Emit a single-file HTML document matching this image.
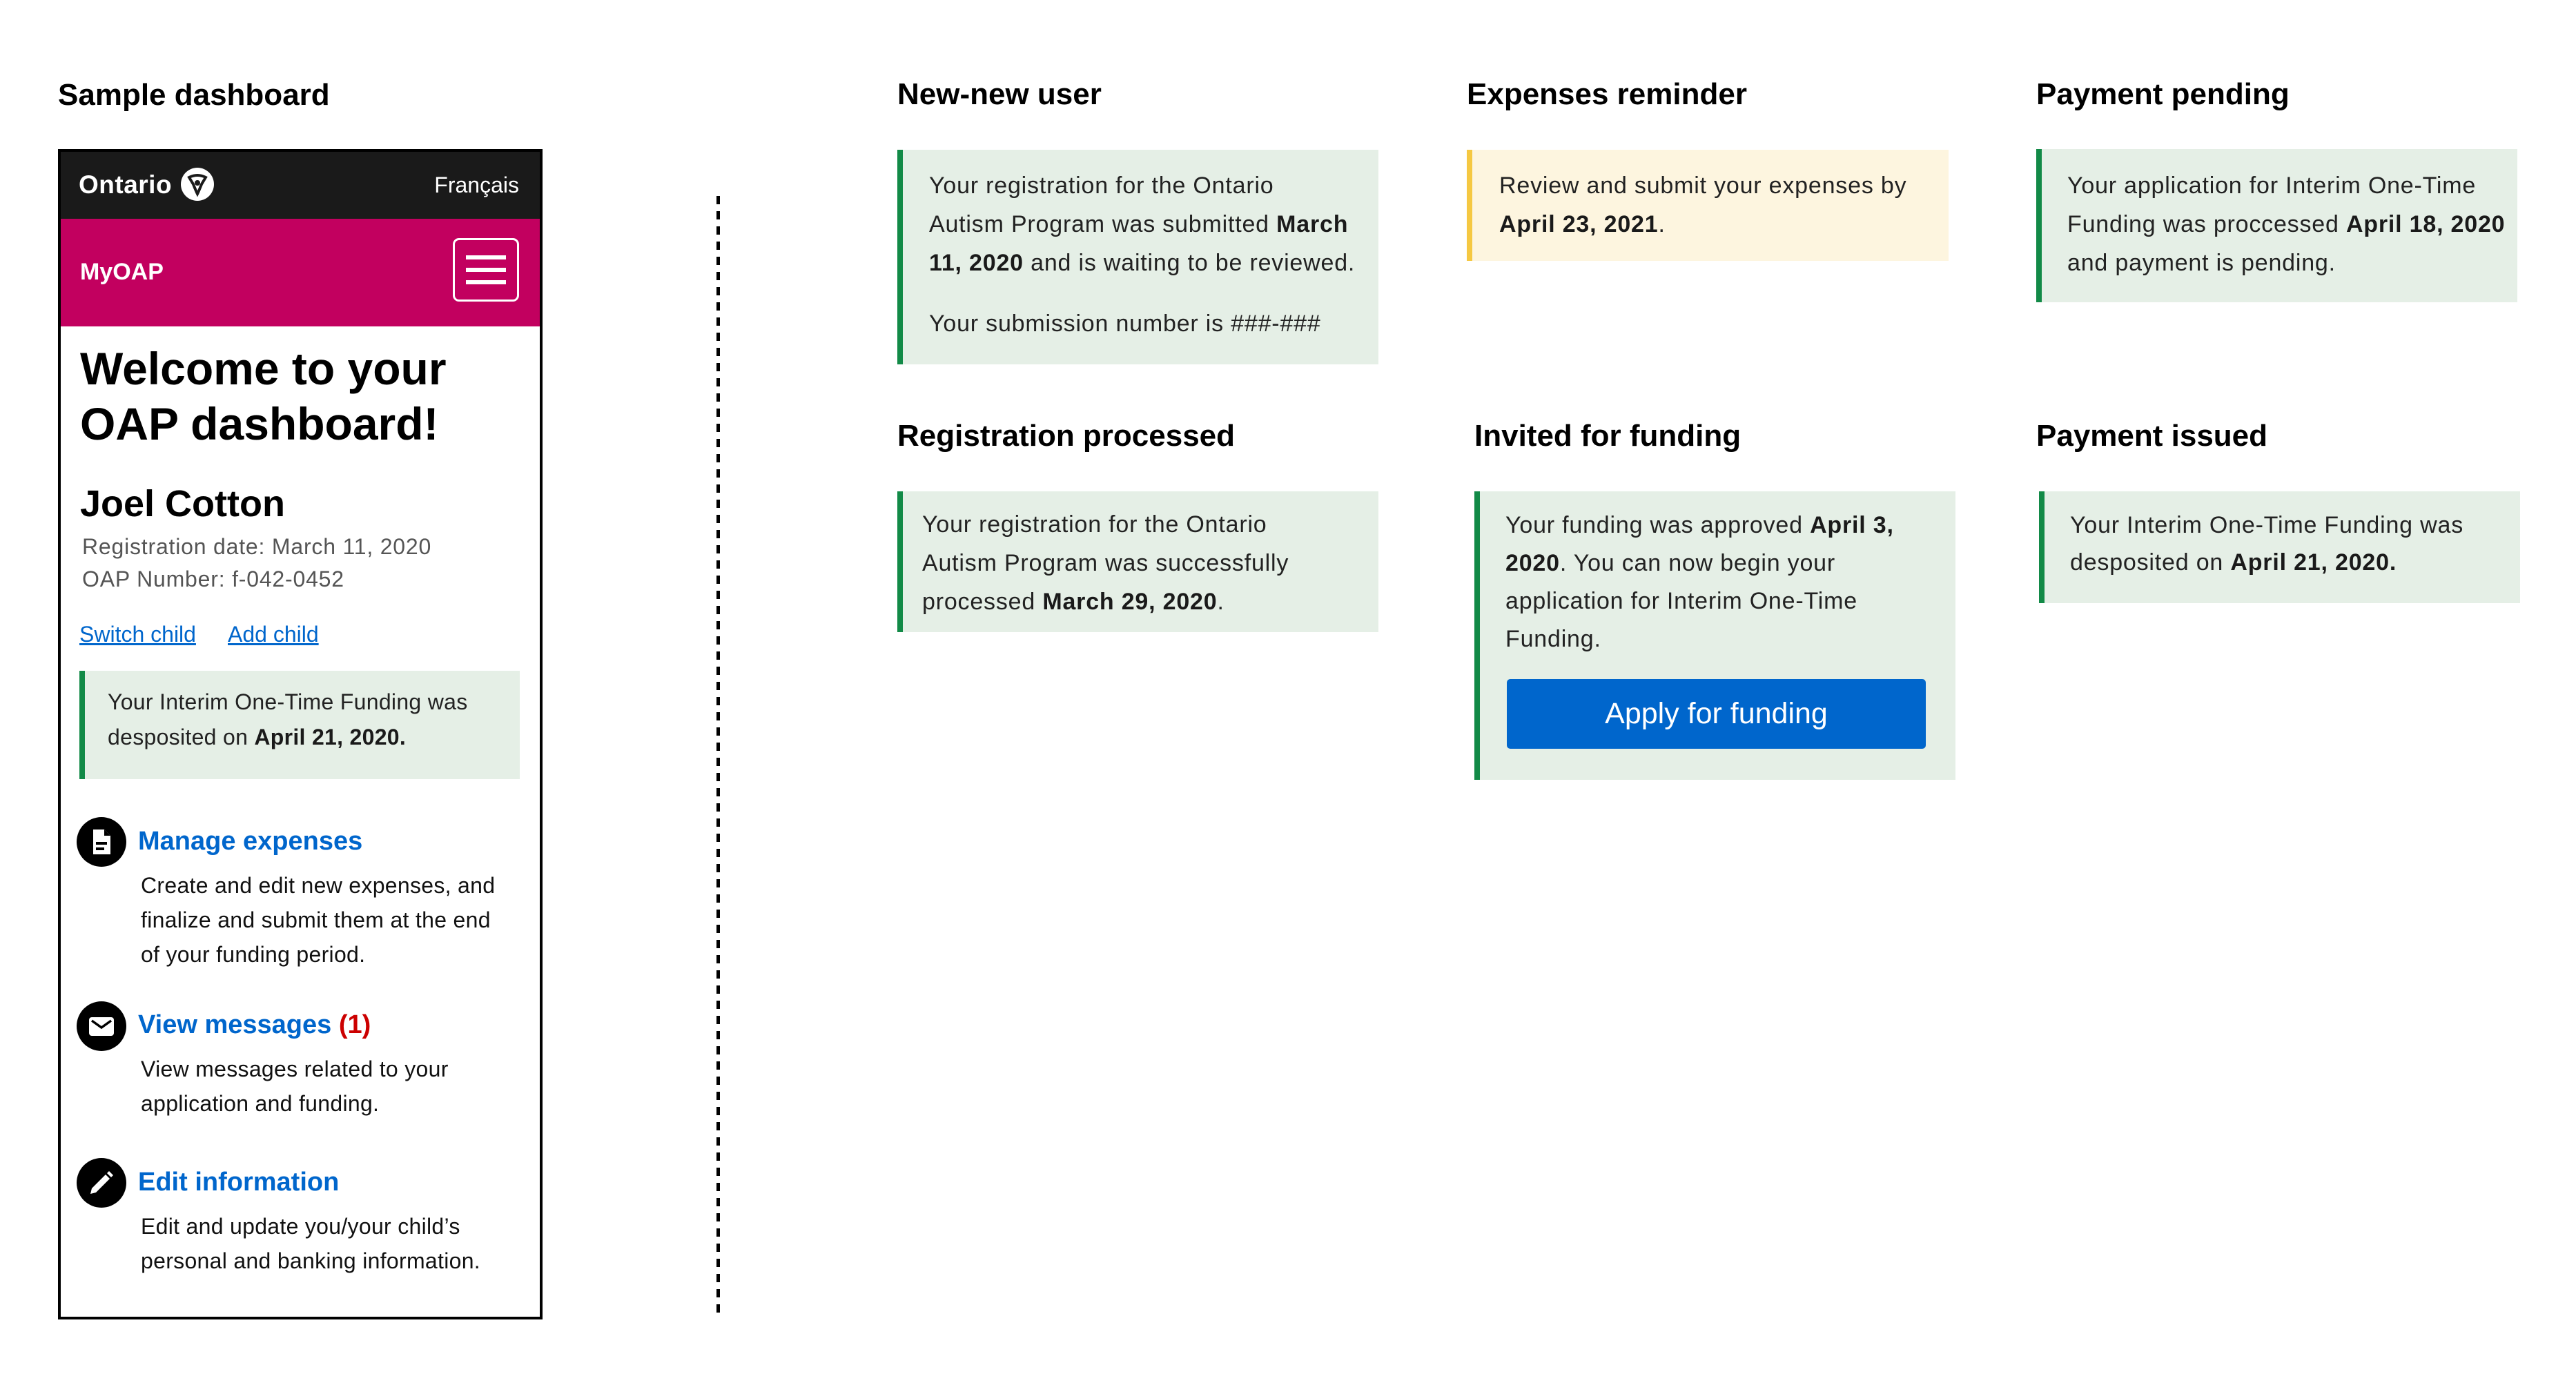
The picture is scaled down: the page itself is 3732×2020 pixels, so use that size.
<!DOCTYPE html>
<html><head><meta charset="utf-8"><style>
*{margin:0;padding:0;box-sizing:border-box}
body{width:3732px;height:2020px;background:#fff;position:relative;overflow:hidden;font-family:"Liberation Sans",Arial,sans-serif;color:#1a1a1a}
.a{position:absolute;white-space:nowrap}
.t{font-weight:bold;font-size:44px;line-height:44px;color:#000}
.box{position:absolute;background:#E5EFE6;border-left:8px solid #128A47}
.bt{position:absolute;font-size:34px;letter-spacing:0.8px;line-height:56px;color:#222;white-space:nowrap}
b{font-weight:bold;color:#1a1a1a}
.ic{position:absolute;width:72px;height:72px;border-radius:50%;background:#000}
.lk{color:#0066CC;font-weight:bold;font-size:38px;line-height:46px}
.ds{font-size:32px;letter-spacing:0.3px;line-height:50px;color:#111}
</style></head><body>

<div class="a t" style="left:84px;top:116px">Sample dashboard</div>
<div class="a t" style="left:1300px;top:115px">New-new user</div>
<div class="a t" style="left:2125px;top:115px">Expenses reminder</div>
<div class="a t" style="left:2950px;top:115px">Payment pending</div>
<div class="a t" style="left:1300px;top:610px">Registration processed</div>
<div class="a t" style="left:2136px;top:610px">Invited for funding</div>
<div class="a t" style="left:2950px;top:610px">Payment issued</div>

<!-- phone -->
<div style="position:absolute;left:84px;top:216px;width:702px;height:1696px;border:4px solid #000;background:#fff;overflow:hidden">
  <div style="position:absolute;left:0;top:0;width:100%;height:97px;background:#1A1A1A"></div>
  <div class="a" style="left:26px;top:26px;font-size:37px;line-height:44px;color:#fff;font-weight:bold;letter-spacing:0.5px">Ontario</div>
  <div style="position:absolute;left:174px;top:23px;width:48px;height:48px;border-radius:50%;background:#fff">
    <svg width="48" height="48" viewBox="0 0 48 48"><path d="M12 14 Q24 8 36 14 L30 24 Q26 34 24 38 Q22 34 18 24 Z" fill="none" stroke="#1a1a1a" stroke-width="4"/><circle cx="24" cy="22" r="4" fill="#1a1a1a"/></svg>
  </div>
  <div class="a" style="right:30px;top:29px;font-size:32px;line-height:38px;color:#fff">Français</div>
  <div style="position:absolute;left:0;top:97px;width:100%;height:156px;background:#C2005F"></div>
  <div class="a" style="left:28px;top:154px;font-size:34px;line-height:40px;color:#fff;font-weight:bold">MyOAP</div>
  <div style="position:absolute;left:568px;top:125px;width:96px;height:92px;border:3px solid #fff;border-radius:9px">
    <div style="position:absolute;left:16px;top:22px;width:58px;height:6px;background:#fff"></div>
    <div style="position:absolute;left:16px;top:40px;width:58px;height:6px;background:#fff"></div>
    <div style="position:absolute;left:16px;top:58px;width:58px;height:6px;background:#fff"></div>
  </div>
  <div class="a" style="left:28px;top:274px;font-size:66px;line-height:80px;font-weight:bold;color:#000">Welcome to your<br>OAP dashboard!</div>
  <div class="a" style="left:28px;top:482px;font-size:54px;line-height:56px;font-weight:bold;color:#000">Joel Cotton</div>
  <div class="a" style="left:31px;top:549px;font-size:32px;letter-spacing:0.8px;line-height:47px;color:#555">Registration date: March 11, 2020<br>OAP Number: f-042-0452</div>
  <div class="a" style="left:27px;top:679px;font-size:32px;line-height:40px;color:#0066CC;text-decoration:underline">Switch child</div>
  <div class="a" style="left:242px;top:679px;font-size:32px;line-height:40px;color:#0066CC;text-decoration:underline">Add child</div>
  <div class="box" style="left:27px;top:752px;width:638px;height:157px"></div>
  <div class="a" style="left:68px;top:772px;font-size:32px;letter-spacing:0.3px;line-height:51px;color:#222">Your Interim One-Time Funding was<br>desposited on <b>April 21, 2020.</b></div>

  <div class="ic" style="left:23px;top:964px"><svg width="72" height="72" viewBox="0 0 72 72"><path d="M24 18 H40 L49 27 V54 H24 Z" fill="#fff"/><path d="M40 18 V27 H49" fill="#000"/><rect x="28" y="36" width="16" height="4" fill="#000"/><rect x="28" y="44" width="12" height="4" fill="#000"/></svg></div>
  <div class="a lk" style="left:112px;top:976px">Manage expenses</div>
  <div class="a ds" style="left:116px;top:1038px">Create and edit new expenses, and<br>finalize and submit them at the end<br>of your funding period.</div>

  <div class="ic" style="left:23px;top:1231px"><svg width="72" height="72" viewBox="0 0 72 72"><rect x="18" y="23" width="36" height="27" rx="4" fill="#fff"/><path d="M22 28 L36 38 L50 28" fill="none" stroke="#000" stroke-width="3.5"/></svg></div>
  <div class="a lk" style="left:112px;top:1242px">View messages <span style="color:#CC0000">(1)</span></div>
  <div class="a ds" style="left:116px;top:1304px">View messages related to your<br>application and funding.</div>

  <div class="ic" style="left:23px;top:1458px"><svg width="72" height="72" viewBox="0 0 72 72"><path d="M20 52 L22 44 L42 24 L48 30 L28 50 Z" fill="#fff"/><path d="M44 22 L47 19 L53 25 L50 28 Z" fill="#fff"/></svg></div>
  <div class="a lk" style="left:112px;top:1470px">Edit information</div>
  <div class="a ds" style="left:116px;top:1532px">Edit and update you/your child’s<br>personal and banking information.</div>
</div>

<!-- dotted separator -->
<div style="position:absolute;left:1038px;top:284px;width:5px;height:1624px;background:repeating-linear-gradient(to bottom,#000 0,#000 12px,transparent 12px,transparent 22px)"></div>

<!-- New-new user -->
<div class="box" style="left:1300px;top:217px;width:697px;height:311px"></div>
<div class="bt" style="left:1346px;top:241px">Your registration for the Ontario<br>Autism Program was submitted <b>March</b><br><b>11, 2020</b> and is waiting to be reviewed.</div>
<div class="bt" style="left:1346px;top:441px">Your submission number is ###-###</div>

<!-- Expenses reminder -->
<div class="box" style="left:2125px;top:217px;width:698px;height:161px;background:#FDF5DF;border-left-color:#F5C842"></div>
<div class="bt" style="left:2172px;top:241px">Review and submit your expenses by<br><b>April 23, 2021</b>.</div>

<!-- Payment pending -->
<div class="box" style="left:2950px;top:216px;width:697px;height:222px"></div>
<div class="bt" style="left:2995px;top:241px">Your application for Interim One-Time<br>Funding was proccessed <b>April 18, 2020</b><br>and payment is pending.</div>

<!-- Registration processed -->
<div class="box" style="left:1300px;top:712px;width:697px;height:204px"></div>
<div class="bt" style="left:1336px;top:732px">Your registration for the Ontario<br>Autism Program was successfully<br>processed <b>March 29, 2020</b>.</div>

<!-- Invited for funding -->
<div class="box" style="left:2136px;top:712px;width:697px;height:418px"></div>
<div class="bt" style="left:2181px;top:734px;line-height:55px">Your funding was approved <b>April 3,</b><br><b>2020</b>. You can now begin your<br>application for Interim One-Time<br>Funding.</div>
<div style="position:absolute;left:2183px;top:984px;width:607px;height:101px;background:#0066CC;border-radius:5px;color:#fff;font-size:43px;line-height:101px;text-align:center">Apply for funding</div>

<!-- Payment issued -->
<div class="box" style="left:2954px;top:712px;width:697px;height:162px"></div>
<div class="bt" style="left:2999px;top:734px;line-height:54px">Your Interim One-Time Funding was<br>desposited on <b>April 21, 2020.</b></div>

</body></html>
